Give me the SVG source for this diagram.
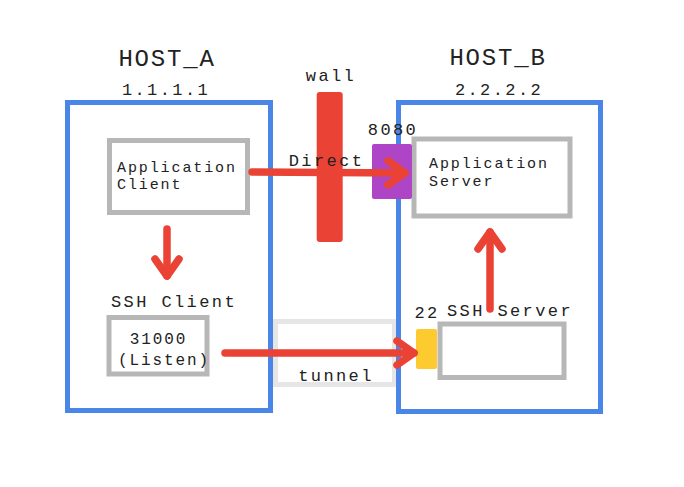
<svg xmlns="http://www.w3.org/2000/svg" width="684" height="487" viewBox="0 0 684 487">
<style>
.host{fill:none;stroke:#4A86E8;stroke-width:5}
.box{fill:#fff;stroke:#B7B7B7;stroke-width:5}
.t{font-family:"Liberation Mono","DejaVu Sans Mono",monospace;fill:#222}
.title{font-size:24px;letter-spacing:1.8px}
.lbl{font-size:17px;letter-spacing:2.4px}
.sm{font-size:15px;letter-spacing:1.9px}
.md{font-size:16px;letter-spacing:1.9px}
.arr{fill:none;stroke:#EA4335;stroke-width:7.5;stroke-linecap:round;stroke-linejoin:round}
</style>
<defs>
<marker id="chev" viewBox="-24 -18 30 36" refX="0" refY="0" markerWidth="30" markerHeight="36" markerUnits="userSpaceOnUse" orient="auto" overflow="visible">
<path d="M-17,-12 L0,0 L-17,12" fill="none" stroke="#EA4335" stroke-width="7.5" stroke-linecap="round" stroke-linejoin="round"/>
</marker>
</defs>
<rect width="684" height="487" fill="#fff"/>
<g id="tunnel">
<rect x="275.5" y="321.5" width="119" height="63" fill="#fff" stroke="#E6E6E6" stroke-width="5"/>
<text class="t lbl" x="336" y="381" text-anchor="middle">tunnel</text>
</g>
<g id="host_a">
<rect class="host" x="67.5" y="102.5" width="203" height="308"/>
<text class="t title" x="167" y="66" text-anchor="middle">HOST_A</text>
<text class="t lbl" x="166" y="95" text-anchor="middle">1.1.1.1</text>
</g>
<g id="host_b">
<rect class="host" x="398.5" y="102.5" width="202" height="309"/>
<text class="t title" x="498" y="65" text-anchor="middle">HOST_B</text>
<text class="t lbl" x="499" y="95" text-anchor="middle">2.2.2.2</text>
</g>
<g id="wall">
<rect x="316.7" y="92" width="26" height="150" rx="3" fill="#EA4335"/>
<text class="t lbl" x="331" y="80.5" text-anchor="middle">wall</text>
</g>
<g id="app_client">
<rect class="box" x="109.5" y="140.5" width="138" height="72"/>
<text class="t sm" x="117" y="172">Application</text>
<text class="t sm" x="117" y="189">Client</text>
</g>
<g id="app_server">
<rect class="box" x="414" y="139" width="156" height="77"/>
<text class="t sm" x="429" y="168">Application</text>
<text class="t sm" x="429" y="186">Server</text>
</g>
<g id="port_8080">
<rect x="372" y="144" width="40" height="55" rx="2" fill="#AE45C6"/>
<text class="t lbl" x="393" y="135" text-anchor="middle">8080</text>
</g>
<g id="ssh_client">
<text class="t lbl" x="174" y="306.5" text-anchor="middle">SSH Client</text>
<rect class="box" x="109" y="317.5" width="98" height="56.5"/>
<text class="t md" x="158.5" y="344" text-anchor="middle">31000</text>
<text class="t md" x="164" y="365" text-anchor="middle">(Listen)</text>
</g>
<g id="ssh_server">
<rect class="box" x="440" y="324" width="124" height="53.5"/>
<text class="t lbl" x="510" y="316" text-anchor="middle">SSH Server</text>
</g>
<g id="port_22">
<rect x="416" y="329" width="21" height="40" rx="2" fill="#FDCB30"/>
<text class="t lbl" x="427" y="317.5" text-anchor="middle">22</text>
</g>
<g id="connectors">
<path class="arr" d="M252,172 L405,173" marker-end="url(#chev)"/>
<path class="arr" d="M167,229 L167,276" marker-end="url(#chev)"/>
<path class="arr" d="M490,309 L490,232" marker-end="url(#chev)"/>
<path class="arr" d="M225,353 L414,353" marker-end="url(#chev)"/>
</g>
<text class="t lbl" x="326.5" y="166" text-anchor="middle">Direct</text>
</svg>
